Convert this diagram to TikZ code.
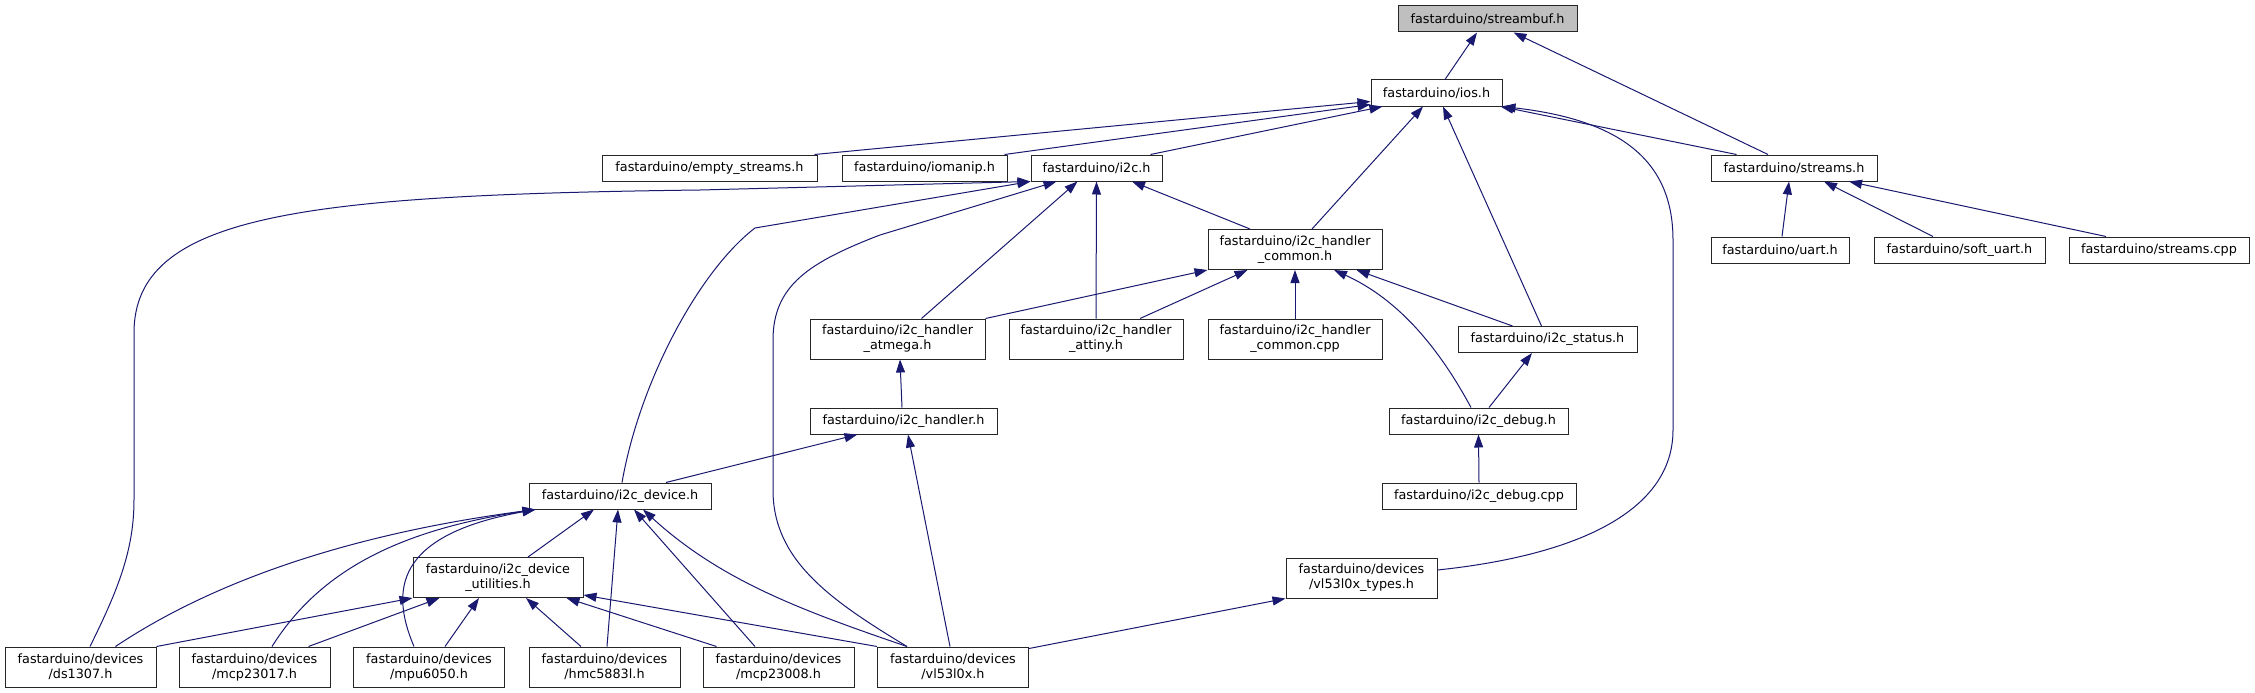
\documentclass[tikz,border=0pt]{standalone}
\usepackage{fontspec}
\setmainfont{DejaVu Sans}
\usetikzlibrary{arrows.meta}
\definecolor{incblue}{HTML}{191970}
\definecolor{rootgray}{HTML}{BFBFBF}
\tikzset{
  filebox/.style={draw=black!85, line width=1pt, fill=white, inner sep=0pt,
                  minimum height=26pt, align=center, font=\fontsize{12.8}{15}\selectfont},
  twoline/.style={filebox, minimum height=40pt},
  incl/.style={draw=incblue, line width=1pt, -{Triangle[length=13pt,width=9pt]}}
}

\begin{document}
\begin{tikzpicture}[x=1pt,y=-1pt]
  \useasboundingbox[fill=white] (0,0) rectangle (2255,693);

  \node[filebox, fill=rootgray, minimum width=179pt] (streambuf) at (1487.5,19) {fastarduino/streambuf.h};
  \node[filebox, minimum width=131pt] (ios) at (1436.5,93) {fastarduino/ios.h};

  \node[filebox, minimum width=215pt] (emptystreams) at (709.5,168) {fastarduino/empty\_streams.h};
  \node[filebox, minimum width=165pt] (iomanip) at (924.5,168) {fastarduino/iomanip.h};
  \node[filebox, minimum width=131pt] (i2c) at (1096.5,168) {fastarduino/i2c.h};
  \node[filebox, minimum width=166pt] (streams) at (1794,168) {fastarduino/streams.h};

  \node[filebox, minimum width=138pt] (uart) at (1780,250) {fastarduino/uart.h};
  \node[filebox, minimum width=171pt] (softuart) at (1959.5,250) {fastarduino/soft\_uart.h};
  \node[filebox, minimum width=180pt] (streamscpp) at (2159,250) {fastarduino/streams.cpp};
  \node[twoline, minimum width=174pt] (commonh) at (1295,249.5) {fastarduino/i2c\_handler\\\_common.h};

  \node[twoline, minimum width=175pt] (atmega) at (897.5,339) {fastarduino/i2c\_handler\\\_atmega.h};
  \node[twoline, minimum width=174pt] (attiny) at (1096,339) {fastarduino/i2c\_handler\\\_attiny.h};
  \node[twoline, minimum width=174pt] (commoncpp) at (1295,339) {fastarduino/i2c\_handler\\\_common.cpp};
  \node[filebox, minimum width=179pt] (status) at (1547.5,339.5) {fastarduino/i2c\_status.h};

  \node[filebox, minimum width=187pt] (handler) at (903.5,421) {fastarduino/i2c\_handler.h};
  \node[filebox, minimum width=179pt] (debugh) at (1478.5,421) {fastarduino/i2c\_debug.h};
  \node[filebox, minimum width=194pt] (debugcpp) at (1479,496) {fastarduino/i2c\_debug.cpp};
  \node[filebox, minimum width=182pt] (device) at (620,496) {fastarduino/i2c\_device.h};

  \node[twoline, minimum width=170pt] (utilities) at (498,577.5) {fastarduino/i2c\_device\\\_utilities.h};
  \node[twoline, minimum width=151pt] (vltypes) at (1361.5,578) {fastarduino/devices\\/vl53l0x\_types.h};

  \node[twoline, minimum width=151pt] (ds1307) at (80.5,667) {fastarduino/devices\\/ds1307.h};
  \node[twoline, minimum width=151pt] (mcp23017) at (254.5,667) {fastarduino/devices\\/mcp23017.h};
  \node[twoline, minimum width=151pt] (mpu6050) at (429,667) {fastarduino/devices\\/mpu6050.h};
  \node[twoline, minimum width=151pt] (hmc5883l) at (604.5,667) {fastarduino/devices\\/hmc5883l.h};
  \node[twoline, minimum width=151pt] (mcp23008) at (778.5,667) {fastarduino/devices\\/mcp23008.h};
  \node[twoline, minimum width=151pt] (vl53l0x) at (953,667) {fastarduino/devices\\/vl53l0x.h};

  % top of the graph
  \draw[incl] ([xshift=8.5pt]ios.north) -- ([xshift=-10.5pt]streambuf.south);
  \draw[incl] ([xshift=-26pt]streams.north) -- ([xshift=26pt]streambuf.south);
  \draw[incl] ([xshift=-3pt]emptystreams.north east) -- ([yshift=5pt]ios.south west);
  \draw[incl] ([xshift=-3pt]iomanip.north east) -- ([yshift=2pt]ios.south west);
  \draw[incl] ([xshift=-12pt]i2c.north east) -- ([xshift=12pt]ios.south west);
  \draw[incl] ([xshift=26pt]streams.north west) -- ([xshift=-2pt]ios.south east);
  \draw[incl] ([xshift=17pt]commonh.north) -- ([xshift=-13.5pt]ios.south);
  \draw[incl] ([xshift=-6pt]status.north) -- ([xshift=6.5pt]ios.south);
  \draw[incl] ([yshift=8pt]vltypes.east) .. controls (1580,555) and (1673,510) .. (1673,430)
    -- (1673,240) .. controls (1673,160) and (1620,120) .. (ios.south east);
  \draw[incl] ([xshift=2pt]uart.north) -- ([xshift=-5pt]streams.south);
  \draw[incl] ([xshift=-26.5pt]softuart.north) -- ([xshift=30pt]streams.south);
  \draw[incl] ([xshift=-53pt]streamscpp.north) -- ([xshift=55pt]streams.south);

  % i2c.h
  \draw[incl] ([xshift=9.5pt]ds1307.north) .. controls (118,590) and (134,550) .. (134,500)
    -- (134,333) .. controls (134,215) and (300,195) .. (700,190) -- (i2c.south west);
  \draw[incl] ([xshift=2pt]device.north) .. controls (640,380) and (700,270) .. (755,228) -- (i2c.south west);
  \draw[incl] ([xshift=-46pt]vl53l0x.north) .. controls (830,600) and (773,560) .. (773,490)
    -- (773,340) .. controls (773,285) and (810,262) .. (880,235) -- ([xshift=26pt]i2c.south west);
  \draw[incl] ([xshift=24pt]atmega.north) -- ([xshift=-19pt]i2c.south);
  \draw[incl] (attiny.north) -- (i2c.south);
  \draw[incl] ([xshift=-45pt]commonh.north) -- ([xshift=35.5pt]i2c.south);

  % i2c_handler_common.h and friends
  \draw[incl] (atmega.north east) -- (commonh.south west);
  \draw[incl] ([xshift=44pt]attiny.north) -- ([xshift=40pt]commonh.south west);
  \draw[incl] (commoncpp.north) -- (commonh.south);
  \draw[incl] ([xshift=-35pt]status.north) -- ([xshift=-26pt]commonh.south east);
  \draw[incl] ([xshift=-7.5pt]debugh.north) .. controls (1440,350) and (1400,300) .. ([xshift=39pt]commonh.south);
  \draw[incl] ([xshift=10.5pt]debugh.north) -- ([xshift=-15.5pt]status.south);
  \draw[incl] (debugcpp.north) -- (debugh.south);
  \draw[incl] ([xshift=-1.5pt]handler.north) -- ([xshift=2.5pt]atmega.south);
  \draw[incl] ([xshift=46pt]device.north) -- ([xshift=-46pt]handler.south);
  \draw[incl] ([xshift=-3pt]vl53l0x.north) -- ([xshift=4.5pt]handler.south);
  \draw[incl] ([yshift=-2pt]vl53l0x.north east) -- (vltypes.south west);

  % i2c_device.h
  \draw[incl] ([xshift=30pt]utilities.north) -- ([xshift=-26pt]device.south);
  \draw[incl] ([xshift=35pt]ds1307.north) .. controls (230,570) and (380,530) .. ([xshift=7pt]device.south west);
  \draw[incl] ([xshift=17.5pt]mcp23017.north) .. controls (320,570) and (400,530) .. ([xshift=7pt]device.south west);
  \draw[incl] ([xshift=-15pt]mpu6050.north) .. controls (390,590) and (395,535) .. ([xshift=7pt]device.south west);
  \draw[incl] ([xshift=2.5pt]hmc5883l.north) -- ([xshift=-2pt]device.south);
  \draw[incl] ([xshift=-23.5pt]mcp23008.north) -- ([xshift=14pt]device.south);
  \draw[incl] ([xshift=-46pt]vl53l0x.north) .. controls (800,610) and (720,580) .. ([xshift=23pt]device.south);

  % i2c_device_utilities.h
  \draw[incl] (ds1307.north east) -- (utilities.south west);
  \draw[incl] ([xshift=-22pt]mcp23017.north east) -- ([xshift=27pt]utilities.south west);
  \draw[incl] ([xshift=16pt]mpu6050.north) -- ([xshift=-19pt]utilities.south);
  \draw[incl] ([xshift=-23.5pt]hmc5883l.north) -- ([xshift=28pt]utilities.south);
  \draw[incl] ([xshift=14pt]mcp23008.north west) -- ([xshift=-17pt]utilities.south east);
  \draw[incl] (vl53l0x.north west) -- ([yshift=3pt]utilities.south east);
\end{tikzpicture}
\end{document}
